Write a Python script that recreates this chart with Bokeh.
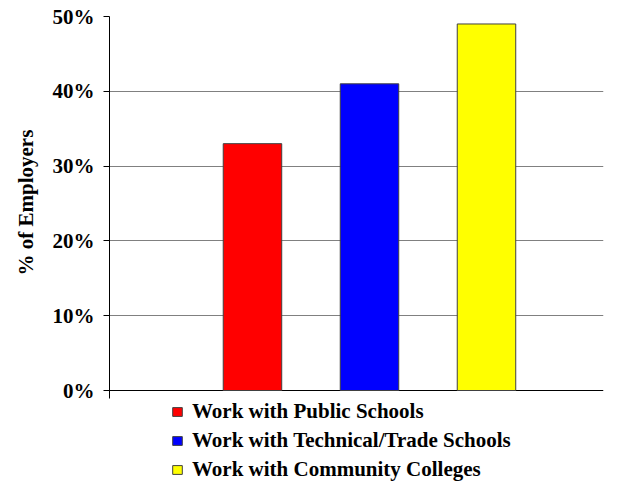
from bokeh.plotting import figure
from bokeh.models import (Range1d, FixedTicker, PrintfTickFormatter, Grid,
                          Legend, LegendItem, Title)
from bokeh.embed import file_html
from bokeh.resources import INLINE

# ---- data ----
categories = ["Work with Public Schools",
              "Work with Technical/Trade Schools",
              "Work with Community Colleges"]
values = [33, 41, 49]
colors = ["#FF0000", "#0000FF", "#FFFF00"]
y_ticks = [0, 10, 20, 30, 40, 50]
y_label = "% of Employers"

FONT = "Liberation Serif"
FSIZE = "21px"

# frame extends down to the bottom so the legend can sit under the axis
px_per_unit = 374 / 50.0
axis_low = -1.07
below_px = 92
y_low = -below_px / px_per_unit

p = figure(width=619, height=482, output_backend="svg", toolbar_location=None,
           x_axis_location=None,
           x_range=Range1d(-0.222, 4.0), y_range=Range1d(y_low, 50),
           min_border_left=109, min_border_right=16, min_border_top=16,
           min_border_bottom=0)
p.outline_line_color = None
p.background_fill_color = "white"
p.border_fill_color = "white"

positions = [i + 1 for i in range(len(categories))]

renderers = []
for i in range(len(categories)):
    r = p.vbar(x=[positions[i]], top=[values[i]], bottom=0, width=0.5,
               fill_color=colors[i], line_color="#404040", line_width=1)
    renderers.append(r)

# axes
yax = p.yaxis[0]
yax.bounds = (axis_low, max(y_ticks))
yax.ticker = FixedTicker(ticks=y_ticks)
yax.formatter = PrintfTickFormatter(format="%d%%")
yax.major_tick_out = 6
yax.major_tick_in = 0
yax.minor_tick_out = 0
yax.minor_tick_in = 0
yax.axis_line_color = "black"
yax.major_tick_line_color = "black"
yax.major_label_text_font = FONT
yax.major_label_text_font_style = "bold"
yax.major_label_text_font_size = FSIZE
yax.major_label_text_color = "black"
yax.major_label_standoff = 9

# y-axis title, placed along the 0-50 % span
ytitle = Title(text=y_label, align="left", offset=207, standoff=23,
               text_font=FONT, text_font_style="bold", text_font_size=FSIZE,
               text_color="black")
p.add_layout(ytitle, "left")

# grids
p.xgrid.visible = False
p.ygrid.ticker = FixedTicker(ticks=[t for t in y_ticks if t not in (min(y_ticks), max(y_ticks))])
p.ygrid.grid_line_color = "#808080"
p.ygrid.grid_line_width = 1
edge_grid = Grid(dimension=1, ticker=FixedTicker(ticks=[min(y_ticks), max(y_ticks)]),
                 grid_line_color="black", grid_line_width=1)
p.add_layout(edge_grid)

legend = Legend(items=[LegendItem(label=categories[i], renderers=[renderers[i]])
                       for i in range(len(categories))],
                location=(62, 0), orientation="vertical",
                label_text_font=FONT, label_text_font_style="bold",
                label_text_font_size=FSIZE, label_text_color="black",
                glyph_width=12, glyph_height=11, label_height=22,
                spacing=4, label_standoff=9, padding=0, margin=0,
                border_line_color=None, background_fill_alpha=0)
p.add_layout(legend, "center")

open("out.html", "w").write(file_html(p, INLINE))
